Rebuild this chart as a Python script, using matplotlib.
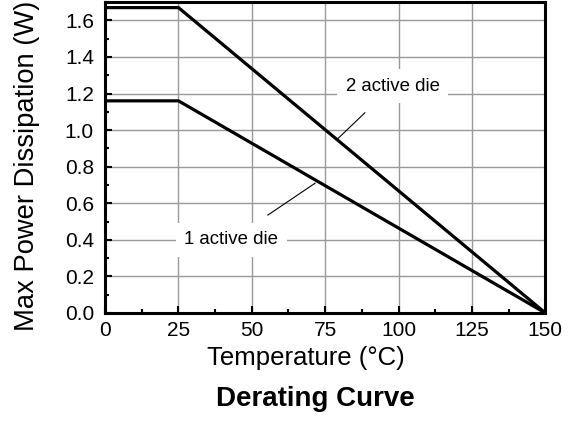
import matplotlib
matplotlib.use("Agg")
import matplotlib.pyplot as plt
from matplotlib.ticker import MultipleLocator, FormatStrFormatter

plt.rcParams["font.family"] = ["Liberation Sans", "DejaVu Sans"]

# derating curves: flat up to 25 C, linear to zero at 150 C
temp = [0, 25, 150]
power_2die = [1.67, 1.67, 0.0]
power_1die = [1.16, 1.16, 0.0]

fig = plt.figure(figsize=(5.68, 4.24), dpi=100)
ax = fig.add_axes([0.185, 0.262, 0.775, 0.733])

ax.plot(temp, power_2die, color="black", lw=2.3, solid_capstyle="butt", zorder=3)
ax.plot(temp, power_1die, color="black", lw=2.3, solid_capstyle="butt", zorder=3)

ax.set_xlim(0, 150)
ax.set_ylim(0, 1.70)
ax.xaxis.set_major_locator(MultipleLocator(25))
ax.xaxis.set_minor_locator(MultipleLocator(12.5))
ax.yaxis.set_major_locator(MultipleLocator(0.2))
ax.yaxis.set_minor_locator(MultipleLocator(0.1))
ax.yaxis.set_major_formatter(FormatStrFormatter("%.1f"))
ax.grid(True, which="major", color="#999999", lw=1.0, zorder=0)

for s in ax.spines.values():
    s.set_linewidth(2.2)
ax.tick_params(which="both", direction="in", width=1.5, labelsize=15)
ax.tick_params(which="major", length=5)
ax.tick_params(which="minor", length=3)
ax.tick_params(axis="x", which="major", pad=6)
ax.tick_params(axis="y", which="major", pad=8)

ax.set_xlabel("Temperature (°C)", fontsize=18.5)
ax.set_ylabel("Max Power Dissipation (W)", fontsize=19.7)
ax.xaxis.set_label_coords(0.457, -0.105)
ax.yaxis.set_label_coords(-0.148, 0.473)

box = dict(facecolor="white", edgecolor="none", pad=6)
ax.annotate("2 active die", xy=(79.1, 0.95), xytext=(98, 1.24),
            fontsize=13.4, ha="center", va="center", bbox=box,
            arrowprops=dict(arrowstyle="-", color="black", lw=0.8,
                            shrinkA=10, shrinkB=0), zorder=4)
ax.annotate("1 active die", xy=(71.6, 0.71), xytext=(43, 0.40),
            fontsize=13.4, ha="center", va="center", bbox=box,
            arrowprops=dict(arrowstyle="-", color="black", lw=0.8,
                            shrinkA=10, shrinkB=0), zorder=4)

fig.text(0.555, 0.059, "Derating Curve", fontsize=20, fontweight="bold",
         ha="center", va="center")

fig.savefig("out.png", dpi=100)
